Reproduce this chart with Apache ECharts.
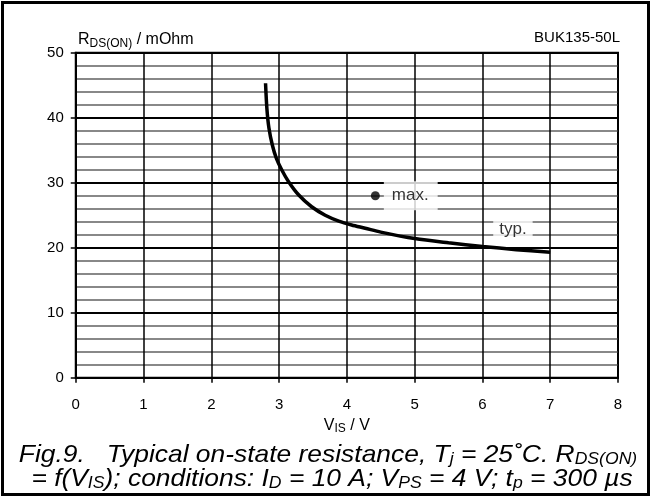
<!DOCTYPE html>
<html><head><meta charset="utf-8">
<script src="https://cdn.jsdelivr.net/npm/echarts@6/dist/echarts.min.js"></script>
<style>html,body{margin:0;padding:0;background:#fff}#c{width:652px;height:497px}</style>
</head><body><div id="c"></div>
<script>
const curveX = [2.80, 2.82, 2.85, 2.90, 2.96, 3.04, 3.14, 3.29, 3.48, 3.68, 3.88, 4.07, 4.27, 4.5, 5.0, 5.5, 6.0, 6.5, 7.0];
const curveY = [45.3, 41.4, 38.4, 35.8, 33.75, 31.95, 30.15, 28.1, 26.3, 25.0, 24.1, 23.5, 23.0, 22.4, 21.4, 20.75, 20.2, 19.7, 19.3];
const maxPoint = [4.42, 28.0];
const typLabelPos = [6.45, 22.9];
const xTicks = [0, 1, 2, 3, 4, 5, 6, 7, 8];
const yTicks = [0, 10, 20, 30, 40, 50];

const FONT = 'Liberation Sans';
const chart = echarts.init(document.getElementById('c'), null, {renderer: 'canvas'});
chart.setOption({
  animation: false,
  backgroundColor: '#fff',
  grid: {left: 75.75, right: 34, top: 52.7, bottom: 119.3, show: true, borderColor: '#000', borderWidth: 2, containLabel: false},
  xAxis: {
    type: 'value', min: xTicks[0], max: xTicks[xTicks.length - 1], interval: 1,
    axisLine: {show: true, lineStyle: {color: '#000', width: 2}},
    axisTick: {show: true, length: 5, lineStyle: {color: '#000', width: 1.5}},
    axisLabel: {color: '#000', fontFamily: FONT, fontSize: 15, margin: 20},
    splitLine: {show: true, lineStyle: {color: '#000', width: 1.5}},
    name: '{a|V}{s|IS}{a| / V}', nameLocation: 'middle', nameGap: 34,
    nameTextStyle: {rich: {a: {fontFamily: FONT, fontSize: 16, color: '#000'}, s: {fontFamily: FONT, fontSize: 12, color: '#000', padding: [7, 0, 0, 0]}}}
  },
  yAxis: {
    type: 'value', min: yTicks[0], max: yTicks[yTicks.length - 1], interval: 10,
    axisLine: {show: true, lineStyle: {color: '#000', width: 2}},
    axisTick: {show: true, length: 5, lineStyle: {color: '#000', width: 1.5}},
    axisLabel: {color: '#000', fontFamily: FONT, fontSize: 15, margin: 12},
    splitLine: {show: true, lineStyle: {color: '#000', width: 2}},
    minorTick: {show: false, splitNumber: 5},
    minorSplitLine: {show: true, lineStyle: {color: '#888', width: 2}}
  },
  series: [
    {
      type: 'line', smooth: 0.3, showSymbol: false, symbol: 'none',
      data: curveX.map((x, i) => [x, curveY[i]]),
      lineStyle: {color: '#000', width: 3.5}, z: 5
    },
    {
      type: 'scatter', symbolSize: 9, itemStyle: {color: '#000'},
      data: [maxPoint],
      label: {show: true, position: 'right', distance: 4, formatter: 'max.', color: '#000', fontFamily: FONT, fontSize: 17,
        backgroundColor: '#fff', padding: [6, 9, 6, 8]}, z: 6
    },
    {
      type: 'scatter', symbolSize: 0, data: [typLabelPos],
      label: {show: true, position: 'inside', formatter: 'typ.', color: '#000', fontFamily: FONT, fontSize: 17,
        backgroundColor: '#fff', padding: [6, 6, 5, 6]}, z: 6
    }
  ],
  graphic: [
    {type: 'rect', shape: {x: 2.5, y: 2.5, width: 646, height: 492}, style: {fill: null, stroke: '#000', lineWidth: 3}, silent: true},
    {type: 'text', x: 78, y: 40, style: {
      text: '{a|R}{s|DS(ON)}{a| / mOhm}', verticalAlign: 'middle',
      rich: {a: {fontFamily: FONT, fontSize: 16, fill: '#000'}, s: {fontFamily: FONT, fontSize: 12, fill: '#000', padding: [7, 0, 0, 0]}}
    }},
    {type: 'text', x: 620, y: 38, style: {text: 'BUK135-50L', align: 'right', verticalAlign: 'middle', fontFamily: FONT, fontSize: 15, fill: '#000'}},
    {type: 'text', x: 328, y: 455, scaleX: 1.1, style: {
      text: '{a|Fig.9.   Typical on-state resistance, T}{s|j}{a| = 25˚C. R}{s|DS(ON)}',
      align: 'center', verticalAlign: 'middle',
      rich: {a: {fontFamily: FONT, fontSize: 24, fontStyle: 'italic', fill: '#000'}, s: {fontFamily: FONT, fontSize: 16, fontStyle: 'italic', fill: '#000', padding: [10, 0, 0, 0]}}
    }},
    {type: 'text', x: 332, y: 479, scaleX: 1.1, style: {
      text: '{a|= f(V}{s|IS}{a|); conditions: I}{s|D}{a| = 10 A; V}{s|PS}{a| = 4 V; t}{s|p}{a| = 300 µs}',
      align: 'center', verticalAlign: 'middle',
      rich: {a: {fontFamily: FONT, fontSize: 24, fontStyle: 'italic', fill: '#000'}, s: {fontFamily: FONT, fontSize: 16, fontStyle: 'italic', fill: '#000', padding: [10, 0, 0, 0]}}
    }}
  ]
});
</script></body></html>
